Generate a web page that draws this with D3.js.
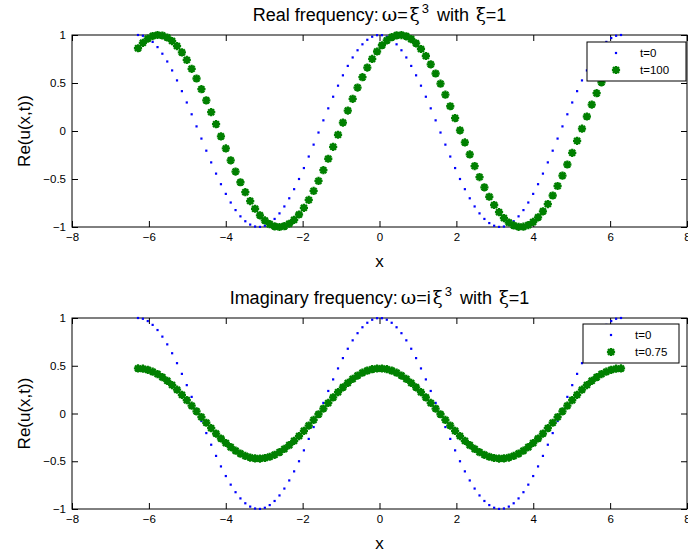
<!DOCTYPE html>
<html>
<head>
<meta charset="utf-8">
<script src="https://cdn.jsdelivr.net/npm/d3@7"></script>
<style>
  body { margin: 0; background: #fff; }
  svg { display: block; }
  text { font-family: "Liberation Sans", Arial, Helvetica, sans-serif; fill: #000; }
</style>
</head>
<body>
<svg id="chart" width="688" height="555"></svg>
<script>
// Sample positions (x from -2π to 2π)
const xValues = [
  -6.283,-6.156,-6.029,-5.902,-5.775,-5.649,-5.522,-5.395,-5.268,-5.141,
  -5.014,-4.887,-4.760,-4.633,-4.506,-4.379,-4.252,-4.125,-3.998,-3.871,
  -3.745,-3.618,-3.491,-3.364,-3.237,-3.110,-2.983,-2.856,-2.729,-2.602,
  -2.475,-2.348,-2.221,-2.094,-1.967,-1.841,-1.714,-1.587,-1.460,-1.333,
  -1.206,-1.079,-0.952,-0.825,-0.698,-0.571,-0.444,-0.317,-0.190,-0.063,
   0.063, 0.190, 0.317, 0.444, 0.571, 0.698, 0.825, 0.952, 1.079, 1.206,
   1.333, 1.460, 1.587, 1.714, 1.841, 1.967, 2.094, 2.221, 2.348, 2.475,
   2.602, 2.729, 2.856, 2.983, 3.110, 3.237, 3.364, 3.491, 3.618, 3.745,
   3.871, 3.998, 4.125, 4.252, 4.379, 4.506, 4.633, 4.760, 4.887, 5.014,
   5.141, 5.268, 5.395, 5.522, 5.649, 5.775, 5.902, 6.029, 6.156, 6.283
];

// Re(u) at t = 0 (same initial wave in both panels)
const waveT0 = [
   1.000, 0.992, 0.968, 0.928, 0.874, 0.805, 0.724, 0.631, 0.527, 0.415,
   0.297, 0.174, 0.048,-0.079,-0.205,-0.327,-0.444,-0.554,-0.655,-0.745,
  -0.824,-0.889,-0.940,-0.975,-0.995,-0.999,-0.987,-0.959,-0.916,-0.858,
  -0.786,-0.701,-0.606,-0.500,-0.386,-0.266,-0.142,-0.016, 0.111, 0.236,
   0.357, 0.472, 0.580, 0.678, 0.766, 0.841, 0.903, 0.950, 0.982, 0.998,
   0.998, 0.982, 0.950, 0.903, 0.841, 0.766, 0.678, 0.580, 0.472, 0.357,
   0.236, 0.111,-0.016,-0.142,-0.266,-0.386,-0.500,-0.606,-0.701,-0.786,
  -0.858,-0.916,-0.959,-0.987,-0.999,-0.995,-0.975,-0.940,-0.889,-0.824,
  -0.745,-0.655,-0.554,-0.444,-0.327,-0.205,-0.079, 0.048, 0.174, 0.297,
   0.415, 0.527, 0.631, 0.724, 0.805, 0.874, 0.928, 0.968, 0.992, 1.000
];

// Re(u) at t = 100, real frequency
const realWaveT100 = [
   0.862, 0.919, 0.962, 0.989, 1.000, 0.995, 0.974, 0.937, 0.885, 0.819,
   0.740, 0.648, 0.547, 0.436, 0.319, 0.196, 0.071,-0.056,-0.182,-0.305,
  -0.423,-0.534,-0.637,-0.730,-0.810,-0.878,-0.932,-0.970,-0.993,-1.000,
  -0.991,-0.966,-0.925,-0.870,-0.800,-0.718,-0.624,-0.520,-0.408,-0.289,
  -0.165,-0.039, 0.088, 0.213, 0.335, 0.452, 0.561, 0.661, 0.751, 0.828,
   0.893, 0.943, 0.977, 0.996, 0.999, 0.986, 0.957, 0.913, 0.854, 0.781,
   0.695, 0.599, 0.493, 0.378, 0.258, 0.134, 0.007,-0.119,-0.244,-0.365,
  -0.480,-0.587,-0.685,-0.771,-0.846,-0.907,-0.953,-0.984,-0.998,-0.997,
  -0.980,-0.947,-0.899,-0.837,-0.761,-0.672,-0.573,-0.465,-0.349,-0.227,
  -0.102, 0.024, 0.151, 0.275, 0.394, 0.507, 0.612, 0.708, 0.791, 0.862
];

// Re(u) at t = 0.75, imaginary frequency (decayed wave)
const imagWaveT075 = [
   0.472, 0.469, 0.457, 0.438, 0.413, 0.380, 0.342, 0.298, 0.249, 0.196,
   0.140, 0.082, 0.023,-0.037,-0.097,-0.154,-0.210,-0.262,-0.309,-0.352,
  -0.389,-0.420,-0.444,-0.461,-0.470,-0.472,-0.466,-0.453,-0.433,-0.405,
  -0.371,-0.331,-0.286,-0.236,-0.182,-0.126,-0.067,-0.008, 0.052, 0.111,
   0.169, 0.223, 0.274, 0.320, 0.362, 0.397, 0.427, 0.449, 0.464, 0.471,
   0.471, 0.464, 0.449, 0.427, 0.397, 0.362, 0.320, 0.274, 0.223, 0.169,
   0.111, 0.052,-0.008,-0.067,-0.126,-0.182,-0.236,-0.286,-0.331,-0.371,
  -0.405,-0.433,-0.453,-0.466,-0.472,-0.470,-0.461,-0.444,-0.420,-0.389,
  -0.352,-0.309,-0.262,-0.210,-0.154,-0.097,-0.037, 0.023, 0.082, 0.140,
   0.196, 0.249, 0.298, 0.342, 0.380, 0.413, 0.438, 0.457, 0.469, 0.472
];

const xTicks = [-8, -6, -4, -2, 0, 2, 4, 6, 8];
const yTicks = [-1, -0.5, 0, 0.5, 1];
const realLegend = ["t=0", "t=100"];
const imagLegend = ["t=0", "t=0.75"];

const BLUE = "#0000ff";
const GREEN = "#008000";
const SERIF = "'DejaVu Serif', 'Liberation Serif', serif";

const svg = d3.select("#chart");
const left = 72, right = 687;
const fmt = d => d < 0 ? "\u2212" + Math.abs(d) : String(d);

// Asterisk marker: plus + cross
function starPath(r) {
  const d = r * 0.72;
  return `M${-r},0L${r},0M0,${-r}L0,${r}M${-d},${-d}L${d},${d}M${-d},${d}L${d},${-d}`;
}

const panels = [
  {
    top: 35, bottom: 227, titleY: 21, xlabelY: 267,
    title: [["Real frequency:", null], ["\u03c9", "omega"], ["=", null], ["\u03be", "xi"], ["3", "sup"], [" with ", null], ["\u03be", "xi"], ["=1", null]],
    second: realWaveT100, labels: realLegend,
    legend: { x: 587, y: 42, w: 99, h: 39, mx: 616, tx: 640 }
  },
  {
    top: 318, bottom: 509, titleY: 304, xlabelY: 549,
    title: [["Imaginary frequency:", null], ["\u03c9", "omega"], ["=i", null], ["\u03be", "xi"], ["3", "sup"], [" with ", null], ["\u03be", "xi"], ["=1", null]],
    second: imagWaveT075, labels: imagLegend,
    legend: { x: 583, y: 324, w: 96, h: 39, mx: 611, tx: 635 }
  }
];

panels.forEach(p => {
  const x = d3.scaleLinear().domain([-8, 8]).range([left, right]);
  const y = d3.scaleLinear().domain([-1, 1]).range([p.bottom, p.top]);
  const g = svg.append("g");

  // Axes with inward ticks on all four sides
  const axisStyle = sel => {
    sel.select(".domain").remove();
    sel.selectAll(".tick line").attr("stroke", "#000");
    sel.selectAll(".tick text").style("font-size", "11.5px").attr("fill", "#000");
  };
  g.append("g").attr("transform", `translate(0,${p.bottom})`)
    .call(d3.axisBottom(x).tickValues(xTicks).tickSize(-6).tickPadding(6).tickFormat(fmt))
    .call(axisStyle);
  g.append("g").attr("transform", `translate(0,${p.top})`)
    .call(d3.axisTop(x).tickValues(xTicks).tickSize(-6).tickFormat(""))
    .call(axisStyle);
  g.append("g").attr("transform", `translate(${left},0)`)
    .call(d3.axisLeft(y).tickValues(yTicks).tickSize(-6).tickPadding(6).tickFormat(fmt))
    .call(axisStyle);
  g.append("g").attr("transform", `translate(${right},0)`)
    .call(d3.axisRight(y).tickValues(yTicks).tickSize(-6).tickFormat(""))
    .call(axisStyle);

  g.append("rect")
    .attr("x", left).attr("y", p.top)
    .attr("width", right - left).attr("height", p.bottom - p.top)
    .attr("fill", "none").attr("stroke", "#000").attr("stroke-width", 1);

  // t = 0 wave: small blue dots
  g.append("g").selectAll("rect").data(waveT0).join("rect")
    .attr("x", (d, i) => x(xValues[i]) - 1.1)
    .attr("y", d => y(d) - 1.1)
    .attr("width", 2.2).attr("height", 2.2)
    .attr("fill", BLUE);

  // later wave: green asterisks
  g.append("g").selectAll("path").data(p.second).join("path")
    .attr("transform", (d, i) => `translate(${x(xValues[i])},${y(d)})`)
    .attr("d", starPath(4.1))
    .attr("stroke", GREEN).attr("stroke-width", 2.3).attr("fill", "none");

  // Title (Greek symbols in a serif face, exponent raised)
  const t = g.append("text")
    .attr("x", (left + right) / 2).attr("y", p.titleY)
    .attr("text-anchor", "middle").style("font-size", "18px");
  let raised = false;
  p.title.forEach(([s, kind]) => {
    const ts = t.append("tspan").text(s);
    if (kind === "omega") ts.attr("dx", 3).style("font-family", SERIF).style("font-size", "19px");
    if (kind === "xi") ts.attr("dx", 2).style("font-family", SERIF).style("font-size", "18px");
    if (kind === "sup") { ts.attr("dy", -8).attr("dx", 2).style("font-size", "13px"); raised = true; }
    else if (raised) { ts.attr("dy", 8).attr("dx", 3); raised = false; }
  });

  // Axis labels
  g.append("text").attr("x", (left + right) / 2).attr("y", p.xlabelY)
    .attr("text-anchor", "middle").style("font-size", "17px").text("x");
  g.append("text")
    .attr("transform", `translate(30,${(p.top + p.bottom) / 2}) rotate(-90)`)
    .attr("text-anchor", "middle").style("font-size", "17px").text("Re(u(x,t))");

  // Legend
  const L = p.legend;
  const lg = g.append("g");
  lg.append("rect").attr("x", L.x).attr("y", L.y).attr("width", L.w).attr("height", L.h)
    .attr("fill", "#fff").attr("stroke", "#000").attr("stroke-width", 1);
  const rowY = [L.y + 11, L.y + 28];
  lg.append("rect").attr("x", L.mx - 1.1).attr("y", rowY[0] - 1.1).attr("width", 2.2).attr("height", 2.2).attr("fill", BLUE);
  lg.append("path").attr("transform", `translate(${L.mx},${rowY[1]})`).attr("d", starPath(4.1))
    .attr("stroke", GREEN).attr("stroke-width", 2.3).attr("fill", "none");
  p.labels.forEach((s, i) => {
    lg.append("text").attr("x", L.tx).attr("y", rowY[i]).attr("dy", "0.35em")
      .style("font-size", "11.5px").text(s);
  });
});
</script>
</body>
</html>
